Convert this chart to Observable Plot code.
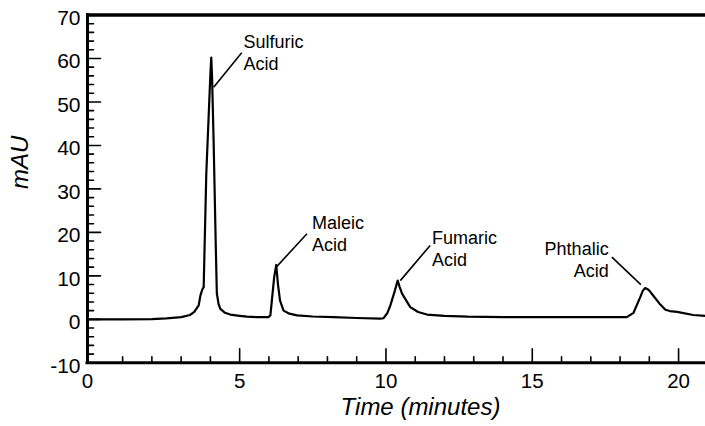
<!DOCTYPE html>
<html>
<head>
<meta charset="utf-8">
<script src="https://cdn.jsdelivr.net/npm/d3@7"></script>
<script src="https://cdn.jsdelivr.net/npm/@observablehq/plot@0.6"></script>
<style>
  html, body { margin: 0; padding: 0; background: #fff; }
  #chart { width: 705px; height: 426px; }
</style>
</head>
<body>
<div id="chart"></div>
<script>
// Chromatogram trace: time (minutes) and absorbance (mAU)
const time = [-0.2, 1.0, 2.0, 2.5, 3.0, 3.3, 3.45, 3.6, 3.66, 3.72, 3.77, 3.86, 4.0, 4.03, 4.06, 4.11, 4.18, 4.22, 4.28, 4.34, 4.5, 4.68, 5.0, 5.25, 5.6, 5.98,
  6.05, 6.1, 6.18, 6.25, 6.31, 6.38, 6.5, 6.7, 6.96, 7.5, 8.2, 9.0, 9.8,
  9.92, 10.05, 10.15, 10.3, 10.4, 10.46, 10.55, 10.83, 11.1, 11.4, 12.0, 12.8, 14.0, 16.0, 18.23,
  18.46, 18.69, 18.78, 18.86, 18.93, 19.0, 19.15, 19.35, 19.55, 19.7, 19.95, 20.5, 20.92];
const mAU = [0, 0, 0.05, 0.2, 0.5, 1.0, 1.7, 3.2, 5.5, 6.8, 7.4, 33.5, 56.5, 60.2, 55, 41, 18, 6, 3.5, 2.4, 1.5, 1.1, 0.8, 0.6, 0.5, 0.5,
  0.9, 4.3, 9.7, 12.5, 8.0, 4.3, 2.0, 1.3, 0.9, 0.65, 0.5, 0.3, 0.15,
  0.25, 1.5, 3.2, 6.5, 8.9, 7.6, 5.9, 2.8, 1.7, 1.1, 0.8, 0.6, 0.5, 0.5, 0.5,
  1.5, 5.1, 6.6, 7.2, 7.0, 6.6, 5.3, 3.6, 2.2, 1.9, 1.7, 1.0, 0.8];

// Axis setup
const xDomain = [-0.2, 20.92];
const yDomain = [-10, 70];
const xMajor = [0, 5, 10, 15, 20];
const xMinor = d3.range(1, 21).filter(d => d % 5 !== 0);
const yMajor = [-10, 0, 10, 20, 30, 40, 50, 60, 70];
const yMinor = d3.range(-8, 70, 2).filter(d => d % 10 !== 0);

// Peak annotations
const peakNames = ["Sulfuric\nAcid", "Maleic\nAcid", "Fumaric\nAcid", "Phthalic\nAcid"];
const labelTime = [5.13, 7.47, 11.57, 17.61];
const labelValue = [61.4, 19.9, 16.5, 13.9];
const labelAlign = ["start", "start", "start", "end"];
const leaderFromTime = [5.07, 7.30, 11.51, 17.72];
const leaderFromValue = [61.3, 19.7, 17.0, 14.3];
const leaderToTime = [4.11, 6.25, 10.49, 18.71];
const leaderToValue = [53.4, 12.0, 8.9, 8.0];

const trace = time.map((t, i) => ({t, v: mAU[i]}));
const labels = peakNames.map((name, i) => ({name, t: labelTime[i], v: labelValue[i], align: labelAlign[i]}));
const leaders = peakNames.map((name, i) => ({x1: leaderFromTime[i], y1: leaderFromValue[i], x2: leaderToTime[i], y2: leaderToValue[i]}));

const tickShape = {draw(context, l) { context.moveTo(0, 0); context.lineTo(0, -l); }};
const font = "'Liberation Sans', Arial, Helvetica, sans-serif";

const chart = Plot.plot({
  width: 705,
  height: 426,
  marginLeft: 87,
  marginRight: 0,
  marginTop: 14.5,
  marginBottom: 63.7,
  style: {fontFamily: font, background: "#fff", color: "#000", overflow: "visible"},
  x: {domain: xDomain},
  y: {domain: yDomain},
  marks: [
    // frame lines
    Plot.ruleY([yDomain[1]], {stroke: "#000", strokeWidth: 3.5}),
    Plot.ruleY([yDomain[0]], {stroke: "#000", strokeWidth: 3, strokeLinecap: "square"}),
    Plot.ruleX([xDomain[0]], {stroke: "#000", strokeWidth: 3, strokeLinecap: "square"}),
    // inward ticks
    Plot.vector(yMajor, {y: d => d, frameAnchor: "left", length: 13, rotate: 90, anchor: "start", shape: tickShape, stroke: "#000", strokeWidth: 1.6}),
    Plot.vector(yMinor, {y: d => d, frameAnchor: "left", length: 6, rotate: 90, anchor: "start", shape: tickShape, stroke: "#000", strokeWidth: 1.6}),
    Plot.vector(xMajor.filter(d => d > 0), {x: d => d, frameAnchor: "bottom", length: 14, rotate: 0, anchor: "start", shape: tickShape, stroke: "#000", strokeWidth: 1.6}),
    Plot.vector(xMinor, {x: d => d, frameAnchor: "bottom", length: 6, rotate: 0, anchor: "start", shape: tickShape, stroke: "#000", strokeWidth: 1.6}),
    // tick labels
    Plot.axisY({ticks: yMajor, tickSize: 0, tickPadding: 7, fontSize: 21, label: null, tickFormat: d => String(d), dy: 3}),
    Plot.axisX({ticks: xMajor.filter(d => d > 0), tickSize: 0, tickPadding: 11, fontSize: 20.5, label: null, tickFormat: d => String(d)}),
    Plot.axisX({ticks: xMajor.filter(d => d === 0), tickSize: 0, tickPadding: 11, fontSize: 20.5, label: null, tickFormat: d => String(d), dx: -6}),
    // axis titles
    Plot.text(["Time (minutes)"], {frameAnchor: "bottom", dx: 24, dy: 52, fontSize: 24, fontStyle: "italic", fill: "#000"}),
    Plot.text(["mAU"], {frameAnchor: "left", dx: -67, rotate: -90, fontSize: 24, fontStyle: "italic", fill: "#000"}),
    // chromatogram
    Plot.line(trace, {x: "t", y: "v", stroke: "#000", strokeWidth: 2.2, strokeLinejoin: "round"}),
    // annotations
    Plot.link(leaders, {x1: "x1", y1: "y1", x2: "x2", y2: "y2", stroke: "#000", strokeWidth: 1.6}),
    Plot.text(labels.filter(d => d.align === "start"), {x: "t", y: "v", text: "name", textAnchor: "start", lineAnchor: "middle", lineHeight: 1.22, fontSize: 18, fill: "#000"}),
    Plot.text(labels.filter(d => d.align === "end"), {x: "t", y: "v", text: "name", textAnchor: "end", lineAnchor: "middle", lineHeight: 1.22, fontSize: 18, fill: "#000"})
  ]
});
document.getElementById("chart").appendChild(chart);
</script>
</body>
</html>
